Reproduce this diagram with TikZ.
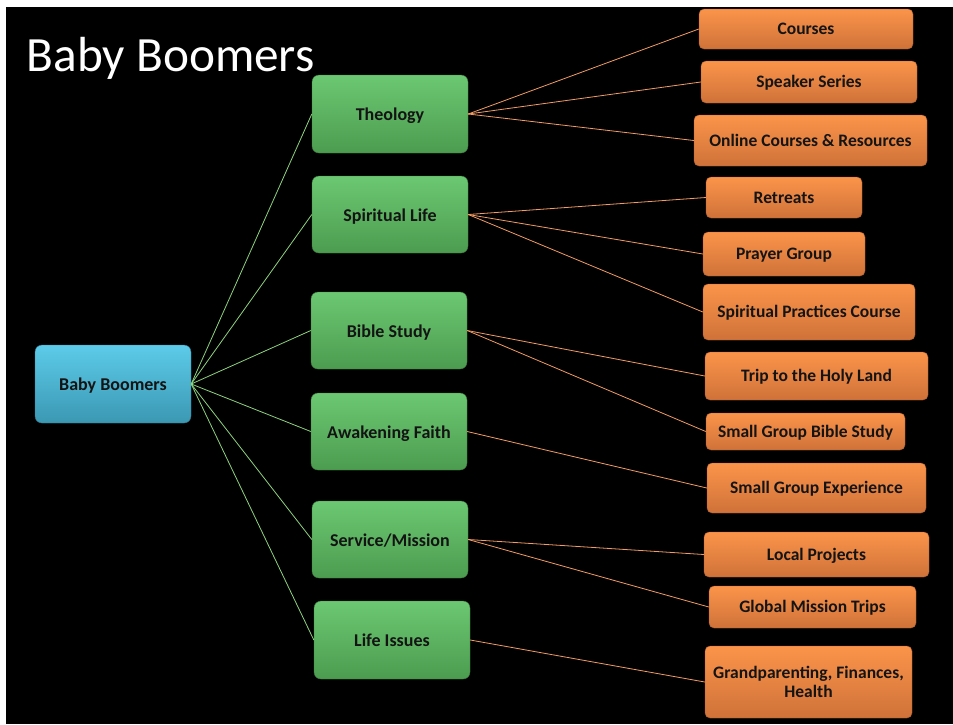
\documentclass[tikz,border=0pt]{standalone}
\usepackage{fontspec}
\setmainfont{Carlito}
\definecolor{gtop}{HTML}{6CC872}
\definecolor{gbot}{HTML}{4C9C4F}
\definecolor{gline}{HTML}{8ED37E}
\definecolor{btop}{HTML}{5CCBE9}
\definecolor{bbot}{HTML}{3B98B3}
\definecolor{otop}{HTML}{FB944A}
\definecolor{obot}{HTML}{CF7239}
\definecolor{oline}{HTML}{F29B62}
\definecolor{txt}{HTML}{141414}
\tikzset{
  box/.style={rounded corners=7pt, inner sep=0pt, text=txt, align=center,
    font=\fontsize{18}{21}\selectfont\bfseries},
  rootbox/.style={box, top color=btop, bottom color=bbot, draw=bbot!80!black, line width=0.4pt,
    text height=12.5pt, text depth=0pt},
  greenbox/.style={box, top color=gtop, bottom color=gbot, draw=gbot!80!black, line width=0.4pt,
    text height=13pt, text depth=0pt},
  obox/.style={box, rounded corners=5pt, top color=otop, bottom color=obot, draw=obot!80!black, line width=0.4pt,
    font=\fontsize{17.5}{19}\selectfont\bfseries},
  orangebox/.style={obox, text height=11pt, text depth=0pt},
  gedge/.style={draw=gline, line width=0.8pt},
  oedge/.style={draw=oline, line width=0.8pt},
}
\begin{document}
\begin{tikzpicture}[x=1pt,y=-1pt]
\useasboundingbox (0,0) rectangle (953,724);
\fill[white] (0,0) rectangle (953,724);
\fill[black] (6,7) rectangle (953,724);
\node[anchor=base west, text=white, inner sep=0pt, font=\fontsize{49.3}{54}\selectfont] (title) at (26.5,71) {Baby Boomers};

\node[rootbox, minimum width=156pt, minimum height=78pt] (root) at (113,384) {Baby Boomers};

\node[greenbox, minimum width=156pt, minimum height=78pt] (theo) at (390,114) {Theology};
\node[greenbox, minimum width=156pt, minimum height=77pt] (spir) at (390,214.5) {Spiritual Life};
\node[greenbox, minimum width=156pt, minimum height=77pt] (bible) at (389,330.5) {Bible Study};
\node[greenbox, minimum width=156pt, minimum height=77pt] (awak) at (389,431.5) {Awakening Faith};
\node[greenbox, minimum width=156pt, minimum height=77pt] (serv) at (390,539.5) {Service/Mission};
\node[greenbox, minimum width=156pt, minimum height=78pt] (life) at (392,640) {Life Issues};

\node[orangebox, minimum width=214pt, minimum height=40pt] (courses) at (806,29) {Courses};
\node[orangebox, minimum width=216pt, minimum height=42pt] (speaker) at (809,82) {Speaker Series};
\node[orangebox, minimum width=233pt, minimum height=51pt] (online) at (810.5,140.5) {Online Courses \& Resources};
\node[orangebox, minimum width=156pt, minimum height=41pt] (retreats) at (784,197.5) {Retreats};
\node[orangebox, minimum width=162pt, minimum height=44pt] (prayer) at (784,254) {Prayer Group};
\node[orangebox, minimum width=212pt, minimum height=56pt] (spc) at (809,312) {Spiritual Practices Course};
\node[orangebox, minimum width=223pt, minimum height=48pt] (trip) at (816.5,376) {Trip to the Holy Land};
\node[orangebox, minimum width=199pt, minimum height=37pt] (sgbs) at (805.5,431.5) {Small Group Bible Study};
\node[orangebox, minimum width=219pt, minimum height=50pt] (sge) at (816.5,488) {Small Group Experience};
\node[orangebox, minimum width=225pt, minimum height=45pt] (local) at (816.5,554.5) {Local Projects};
\node[orangebox, minimum width=207pt, minimum height=42pt] (global) at (812.5,607) {Global Mission Trips};
\node[obox, minimum width=207pt, minimum height=72pt] (grand) at (808.5,682) {Grandparenting, Finances,\\Health};

\foreach \g in {theo,spir,bible,awak,serv,life}
  \draw[gedge] (root.east) -- (\g.west);

\draw[oedge] (theo.east) -- (courses.west);
\draw[oedge] (theo.east) -- (speaker.west);
\draw[oedge] (theo.east) -- (online.west);
\draw[oedge] (spir.east) -- (retreats.west);
\draw[oedge] (spir.east) -- (prayer.west);
\draw[oedge] (spir.east) -- (spc.west);
\draw[oedge] (bible.east) -- (trip.west);
\draw[oedge] (bible.east) -- (sgbs.west);
\draw[oedge] (awak.east) -- (sge.west);
\draw[oedge] (serv.east) -- (local.west);
\draw[oedge] (serv.east) -- (global.west);
\draw[oedge] (life.east) -- (grand.west);
\end{tikzpicture}
\end{document}
